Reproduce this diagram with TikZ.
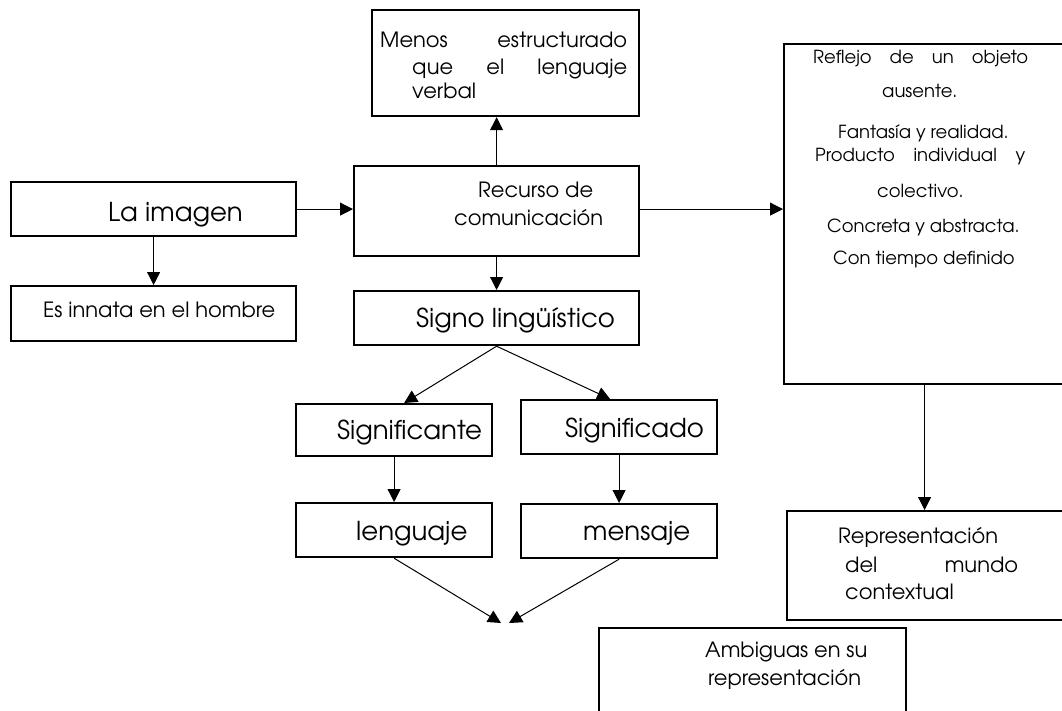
\documentclass[tikz,border=0pt]{standalone}
\usepackage{fontspec}
\setmainfont{TeX Gyre Adventor}
\usetikzlibrary{arrows.meta}
\begin{document}
\begin{tikzpicture}[x=1pt,y=-1pt,
  box/.style={draw=black,line width=2.2pt,rectangle,inner sep=0pt,anchor=north west},
  arr/.style={draw=black,line width=1pt,-{Triangle[length=13pt,width=13pt]}},
  txt/.style={inner sep=0pt,anchor=base west},
  big/.style={font=\fontsize{26}{30}\selectfont},
  mid/.style={font=\fontsize{21}{25}\selectfont},
  sml/.style={font=\fontsize{18}{22}\selectfont}]
\useasboundingbox (0,0) rectangle (1062,710);
\clip (0,0) rectangle (1062,710);
% boxes
\node[box,minimum width=267pt,minimum height=106pt] (menos) at (371,9) {};
\node[box,minimum width=285pt,minimum height=54pt] (imagen) at (10,181) {};
\node[box,minimum width=285pt,minimum height=55pt] (innata) at (10,285) {};
\node[box,minimum width=285pt,minimum height=90pt] (recurso) at (353,165) {};
\node[box,minimum width=283pt,minimum height=340pt] (reflejo) at (783,43) {};
\node[box,minimum width=280pt,minimum height=109pt] (repr) at (786,510) {};
\node[box,minimum width=285pt,minimum height=54pt] (signo) at (353,290) {};
\node[box,minimum width=196pt,minimum height=52pt] (ste) at (295,403) {};
\node[box,minimum width=196pt,minimum height=54pt] (sdo) at (520,399) {};
\node[box,minimum width=196pt,minimum height=54pt] (leng) at (295,502) {};
\node[box,minimum width=196pt,minimum height=54pt] (mens) at (520,503) {};
\node[box,minimum width=307pt,minimum height=100pt] (amb) at (598,627) {};
% texts
\node[txt,mid] (t1) at (380,47) {\makebox[247pt][s]{Menos estructurado}};
\node[txt,mid] (t2) at (412,74) {\makebox[215pt][s]{que el lenguaje}};
\node[txt,mid] (t3) at (412,98) {verbal};
\node[txt,big] (t4) at (108,221) {La imagen};
\node[txt,mid] (t5) at (43,317) {Es innata en el hombre};
\node[txt,mid] (t6) at (478,197) {Recurso de};
\node[txt,mid] (t7) at (454,225) {comunicación};
\node[txt,big] (t8) at (416,327) {Signo lingüístico};
\node[txt,big] (t9) at (337,439) {Significante};
\node[txt,big] (t10) at (565,437) {Significado};
\node[txt,big] (t11) at (356,540) {lenguaje};
\node[txt,big] (t12) at (583,540) {mensaje};
\node[txt,sml] (r1) at (813,63) {\makebox[215pt][s]{Reflejo de un objeto}};
\node[txt,sml] (r2) at (882,97) {ausente.};
\node[txt,sml] (r3) at (838,138) {Fantasía y realidad.};
\node[txt,sml] (r4) at (815,161) {\makebox[210pt][s]{Producto individual y}};
\node[txt,sml] (r5) at (877,197) {colectivo.};
\node[txt,sml] (r6) at (827,232) {Concreta y abstracta.};
\node[txt,sml] (r7) at (833,264) {Con tiempo definido};
\node[txt,mid] (p1) at (838,543) {Representación};
\node[txt,mid] (p2) at (845,572) {\makebox[173pt][s]{del mundo}};
\node[txt,mid] (p3) at (845,599) {contextual};
\node[txt,mid] (a1) at (705,657) {Ambiguas en su};
\node[txt,mid] (a2) at (708,685) {representación};
% connectors
\coordinate (meetL) at (501,623);
\coordinate (meetR) at (509,623);
\draw[arr] (imagen.south) -- (innata.north);
\draw[arr] (imagen.east) -- (imagen.east -| recurso.west);
\draw[arr] (recurso.north) -- (recurso.north |- menos.south);
\draw[arr] ([yshift=2pt]recurso.east) -- ([yshift=2pt]recurso.east -| reflejo.west);
\draw[arr] ([xshift=-1pt]reflejo.south) -- ([xshift=-1pt]reflejo.south |- repr.north);
\draw[arr] (recurso.south) -- (recurso.south |- signo.north);
\draw[arr] (signo.south) -- ([xshift=10pt]ste.north);
\draw[arr] (signo.south) -- ([xshift=-9pt]sdo.north);
\draw[arr] (ste.south) -- (leng.north);
\draw[arr] (sdo.south) -- (sdo.south |- mens.north);
\draw[arr] (leng.south) -- (meetL);
\draw[arr] (mens.south) -- (meetR);
\end{tikzpicture}
\end{document}
